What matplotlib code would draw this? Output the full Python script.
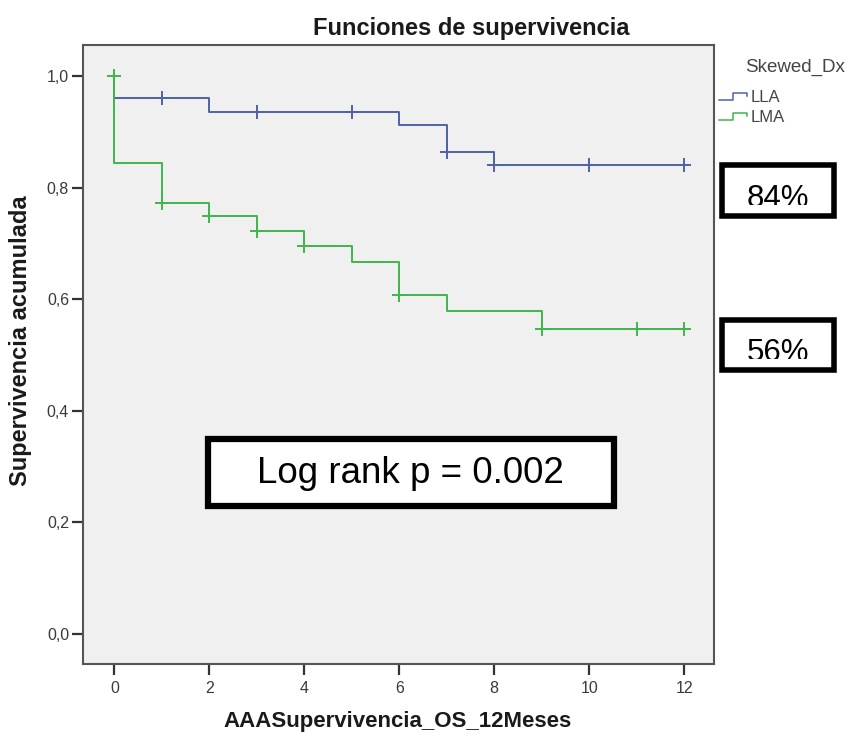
import matplotlib
matplotlib.use("Agg")
import matplotlib.pyplot as plt
from matplotlib.patches import Rectangle
from matplotlib.lines import Line2D

plt.rcParams['font.family'] = ['Liberation Sans', 'DejaVu Sans']

# Kaplan-Meier step data (time, survival after event)
lla_times = [0, 0, 2, 6, 7, 8, 12]
lla_surv = [1.0, 0.960, 0.936, 0.912, 0.864, 0.840, 0.840]
lla_cens_t = [1, 3, 5, 7, 8, 10, 12]
lla_cens_s = [0.960, 0.936, 0.936, 0.864, 0.840, 0.840, 0.840]

lma_times = [0, 0, 1, 2, 3, 4, 5, 6, 7, 9, 12]
lma_surv = [1.0, 0.845, 0.772, 0.749, 0.722, 0.695, 0.666, 0.607, 0.578, 0.547, 0.547]
lma_cens_t = [0, 1, 2, 3, 4, 6, 9, 11, 12]
lma_cens_s = [1.0, 0.772, 0.749, 0.722, 0.695, 0.607, 0.547, 0.547, 0.547]

xticks = [0, 2, 4, 6, 8, 10, 12]
yticks = [0.0, 0.2, 0.4, 0.6, 0.8, 1.0]
ytick_labels = ["0,0", "0,2", "0,4", "0,6", "0,8", "1,0"]
group_names = ["LLA", "LMA"]
final_labels = ["84%", "56%"]

blue = "#4f62a8"
green = "#3fb54c"

W, H = 851, 737
def fx(px):
    return px / W
def fy(py):
    return 1 - py / H

fig = plt.figure(figsize=(8.51, 7.37), dpi=100)
ax = fig.add_axes([fx(83), fy(664), (714 - 83) / W, (664 - 45) / H])
ax.set_facecolor("#f0f0f0")

ax.step(lla_times, lla_surv, where="post", color=blue, lw=1.4)
ax.step(lma_times, lma_surv, where="post", color=green, lw=1.4)
ax.plot(lla_cens_t, lla_cens_s, ls="none", marker="+", ms=10, mew=1.4, color=blue)
ax.plot(lma_cens_t, lma_cens_s, ls="none", marker="+", ms=10, mew=1.4, color=green)

ax.set_xlim(-0.66, 12.63)
ax.set_ylim(-0.0538, 1.0556)
ax.set_xticks(xticks)
ax.set_xticklabels([str(x) for x in xticks], fontsize=11.5, color="#3a3a3a")
ax.set_yticks(yticks)
ax.set_yticklabels(ytick_labels, fontsize=11.5, color="#3a3a3a")
ax.tick_params(axis="x", direction="out", length=8, width=1.6, color="#333333", pad=4)
ax.tick_params(axis="y", direction="out", length=8, width=1.6, color="#333333", pad=2)
for s in ax.spines.values():
    s.set_color("#555555")
    s.set_linewidth(1.5)

fig.text(fx(471), fy(28), "Funciones de supervivencia", fontsize=17, fontweight="bold",
         ha="center", va="center", color="#1a1a1a")
fig.text(fx(398), fy(722), "AAASupervivencia_OS_12Meses", fontsize=16, fontweight="bold",
         ha="center", va="center", color="#1a1a1a")
fig.text(fx(21), fy(341), "Supervivencia acumulada", fontsize=17, fontweight="bold",
         ha="center", va="center", rotation=90, color="#1a1a1a")

# legend (SPSS style)
fig.text(fx(795), fy(67), "Skewed_Dx", fontsize=13.5, color="#444444", ha="center", va="center")
for i, (name, col) in enumerate(zip(group_names, [blue, green])):
    yc = 97 + i * 20
    xs = [719, 733, 733, 747, 747]
    ys = [yc + 3, yc + 3, yc - 4, yc - 4, yc - 1]
    fig.add_artist(Line2D([fx(x) for x in xs], [fy(y) for y in ys], color=col, lw=1.1))
    fig.text(fx(751), fy(yc), name, fontsize=12, color="#444444", ha="left", va="center")

# percentage boxes (text slightly clipped at the bottom, as in the reference)
for lab, top, base in zip(final_labels, [163, 317], [207, 361]):
    l, r, b = 719, 836, top + 55
    fig.text(fx((l + r) / 2), fy(base), lab, fontsize=22.5, ha="center", va="baseline",
             color="black", zorder=1)
    fig.add_artist(Rectangle((fx(l + 4), fy(b - 2)), (r - l - 8) / W, (b - 2 - (base - 2)) / H,
                             transform=fig.transFigure, facecolor="white", edgecolor="none",
                             zorder=2))
    fig.add_artist(Rectangle((fx(l + 2.5), fy(b - 2.5)), (r - l - 5) / W, (b - top - 5) / H,
                             transform=fig.transFigure, facecolor="none", edgecolor="black",
                             lw=4, zorder=3))

# log rank box
fig.add_artist(Rectangle((fx(208), fy(506)), (614 - 208) / W, (506 - 439) / H,
                         transform=fig.transFigure, facecolor="white", edgecolor="black",
                         lw=4.5, zorder=3))
fig.text(fx(410), fy(474), "Log rank p = 0.002", fontsize=26.5, ha="center", va="center",
         zorder=4)

fig.savefig("out.png", dpi=100)
